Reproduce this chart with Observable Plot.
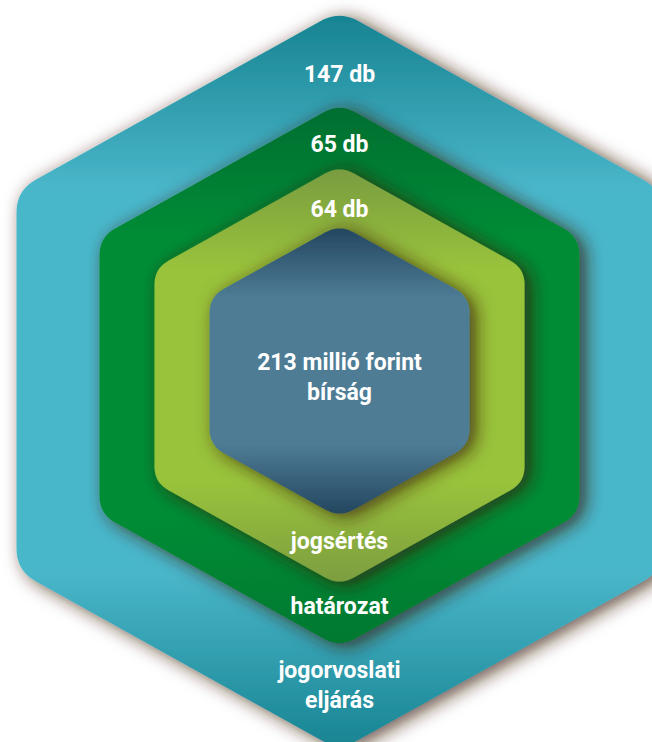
<!DOCTYPE html>
<html>
<head>
<meta charset="utf-8">
<script src="https://cdn.jsdelivr.net/npm/d3@7"></script>
<script src="https://cdn.jsdelivr.net/npm/@observablehq/plot@0.6"></script>
<style>
  html, body { margin: 0; padding: 0; background: #fff; }
  #chart { width: 652px; height: 742px; overflow: hidden; }
</style>
</head>
<body>
<div id="chart"></div>
<script>
// ---- data ----
const stages = ["jogorvoslati\neljárás", "határozat", "jogsértés", "bírság"];
const counts = [147, 65, 64, 213];
const units = ["db", "db", "db", "millió forint"];

// ---- layout (design constants, not data) ----
const W = 652, H = 742, CX = 339, SLOPE = 0.557;
const hexTop = [10, 103, 165, 224];
const hexBottom = [750, 647, 585, 517];
const hexHalfW = [323, 240, 185, 130];
const cornerR = [22, 18, 16, 16];
const gradColors = [
  ["#168290", "#4ab7ca", "#4ab7ca", "#178391"],
  ["#006d30", "#008c36", "#008c36", "#00782f"],
  ["#789a40", "#99c33b", "#99c33b", "#7c9c40"],
  ["#21445d", "#4e7b94", "#4e7b94", "#21445d"]
];

function hexPoints(i) {
  const w = hexHalfW[i], t = hexTop[i], b = hexBottom[i], s = SLOPE * w, r = cornerR[i];
  const V = [[CX, t], [CX + w, t + s], [CX + w, b - s], [CX, b], [CX - w, b - s], [CX - w, t + s]];
  const pts = [];
  for (let k = 0; k < 6; k++) {
    const v = V[k], p = V[(k + 5) % 6], n = V[(k + 1) % 6];
    const dp = Math.hypot(p[0] - v[0], p[1] - v[1]), dn = Math.hypot(n[0] - v[0], n[1] - v[1]);
    const A = [v[0] + (p[0] - v[0]) * r / dp, v[1] + (p[1] - v[1]) * r / dp];
    const B = [v[0] + (n[0] - v[0]) * r / dn, v[1] + (n[1] - v[1]) * r / dn];
    for (let j = 0; j <= 10; j++) {
      const u = j / 10;
      const x = (1 - u) * (1 - u) * A[0] + 2 * u * (1 - u) * v[0] + u * u * B[0];
      const y = (1 - u) * (1 - u) * A[1] + 2 * u * (1 - u) * v[1] + u * u * B[1];
      pts.push({layer: i, x, y});
    }
  }
  return pts;
}

// label positions
const valueY = [72, 142, 207];
const nameY = [683, 604, 539];

const topLabels = counts.slice(0, 3).map((c, i) => ({x: CX, y: valueY[i], text: `${c} ${units[i]}`}));
const bottomLabels = stages.slice(0, 3).map((s, i) => ({x: CX, y: nameY[i], text: s}));
const centerLabel = [{x: CX, y: 375, text: `${counts[3]} ${units[3]}\n${stages[3]}`}];

const marks = [];
stages.forEach((s, i) => {
  marks.push(Plot.line(hexPoints(i), {
    x: "x", y: "y", curve: "linear-closed",
    fill: `url(#grad${i})`, stroke: "none"
  }));
});
const textOpts = {x: "x", y: "y", text: "text", fill: "white", fontSize: 23, fontWeight: "bold",
  fontFamily: "Roboto, 'Open Sans', sans-serif", lineHeight: 1.28, textAnchor: "middle"};
marks.push(Plot.text(topLabels, textOpts));
marks.push(Plot.text(bottomLabels, textOpts));
marks.push(Plot.text(centerLabel, textOpts));

const chart = Plot.plot({
  width: W, height: H,
  margin: 0,
  x: {domain: [0, W], range: [0, W], axis: null},
  y: {domain: [0, H], range: [0, H], axis: null},
  style: {background: "transparent", overflow: "hidden"},
  marks
});

// gradients and shadow definitions
const svg = d3.select(chart);
const defs = svg.insert("defs", ":first-child");
stages.forEach((s, i) => {
  const t = hexTop[i], b = hexBottom[i], sv = SLOPE * hexHalfW[i];
  const g = defs.append("linearGradient").attr("id", `grad${i}`)
    .attr("gradientUnits", "userSpaceOnUse")
    .attr("x1", 0).attr("x2", 0).attr("y1", t).attr("y2", b);
  const offs = [0, sv / (b - t), 1 - sv / (b - t), 1];
  offs.forEach((o, k) => g.append("stop").attr("offset", o).attr("stop-color", gradColors[i][k]));
});
const f = defs.append("filter").attr("id", "shadow")
  .attr("x", "-20%").attr("y", "-20%").attr("width", "140%").attr("height", "140%");
f.append("feGaussianBlur").attr("in", "SourceAlpha").attr("stdDeviation", 9).attr("result", "blur");
f.append("feOffset").attr("in", "blur").attr("dx", 6).attr("dy", 3).attr("result", "off");
f.append("feFlood").attr("flood-color", "#3a1d0e").attr("flood-opacity", 0.8).attr("result", "col");
f.append("feComposite").attr("in", "col").attr("in2", "off").attr("operator", "in").attr("result", "sh");
const m = f.append("feMerge");
m.append("feMergeNode").attr("in", "sh");
m.append("feMergeNode").attr("in", "SourceGraphic");

svg.selectAll('g[aria-label="line"]').attr("filter", "url(#shadow)");

document.getElementById("chart").append(chart);
</script>
</body>
</html>
